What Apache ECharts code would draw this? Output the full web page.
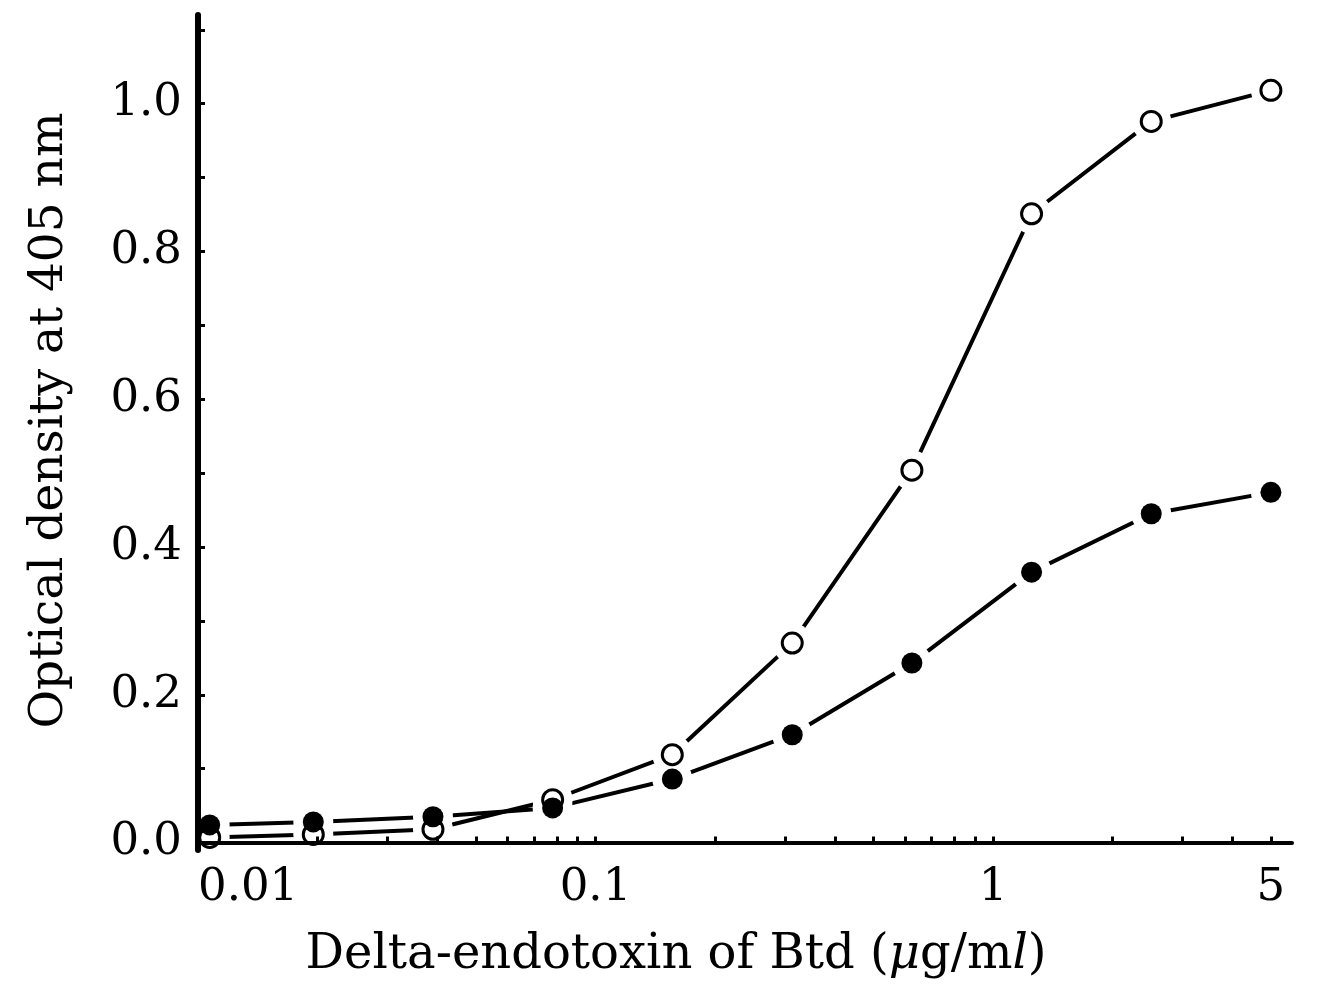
<!DOCTYPE html>
<html>
<head>
<meta charset="utf-8">
<script src="https://cdn.jsdelivr.net/npm/echarts@6/dist/echarts.min.js"></script>
<style>
html, body { margin: 0; background: #fff; }
#chart { width: 1323px; height: 987px; }
</style>
</head>
<body>
<div id="chart"></div>
<script>
// doubling dilutions of the toxin (ug/ml)
var doses = [0.0107, 0.0195, 0.039, 0.078, 0.156, 0.3125, 0.625, 1.25, 2.5, 5];
// open circles
var openOD = [0.007, 0.011, 0.018, 0.058, 0.119, 0.270, 0.504, 0.851, 0.976, 1.018];
// filled circles
var filledOD = [0.024, 0.028, 0.035, 0.047, 0.086, 0.146, 0.243, 0.366, 0.445, 0.474];

var xLabels = [0.01, 0.1, 1, 5];
var yLabels = [0, 0.2, 0.4, 0.6, 0.8, 1.0];
var yTicks = [0, 0.1, 0.2, 0.3, 0.4, 0.5, 0.6, 0.7, 0.8, 0.9, 1.0, 1.1];

// minor ticks 2..9 in each decade
var xTicks = [];
[0.01, 0.1, 1].forEach(function (d) {
    for (var k = 1; k <= 9; k++) {
        if (d * k <= 5.6) xTicks.push(+(d * k).toPrecision(3));
    }
});

function pairs(ys) {
    return doses.map(function (x, i) { return [x, ys[i]]; });
}

var font = 'DejaVu Serif';

var mychart = echarts.init(document.getElementById('chart'));

var option = {
    animation: false,
    backgroundColor: '#fff',
    grid: { left: 198, right: 31, top: 15, bottom: 137 },
    xAxis: {
        type: 'log',
        logBase: 10,
        min: 0.01,
        max: 5.65,
        z: 6,
        name: 'Delta-endotoxin of Btd ({i|\u03bc}g/m{i|l})',
        nameLocation: 'middle',
        nameGap: 82,
        nameTextStyle: {
            fontFamily: font, fontSize: 48, color: '#000',
            padding: [0, 138, 0, 0],
            rich: { i: { fontFamily: font, fontSize: 48, fontStyle: 'italic', color: '#000' } }
        },
        axisLine: { lineStyle: { color: '#000', width: 4 } },
        axisTick: { show: true, inside: true, length: 6, customValues: xTicks, lineStyle: { color: '#000', width: 3 } },
        axisLabel: {
            customValues: xLabels,
            alignMinLabel: 'left',
            margin: 16,
            fontFamily: font, fontSize: 45, color: '#000',
            formatter: function (v) { return String(+(+v).toPrecision(3)); }
        },
        splitLine: { show: false },
        minorTick: { show: false }
    },
    yAxis: {
        type: 'value',
        min: -0.01,
        max: 1.12,
        z: 6,
        name: 'Optical density at 405 nm',
        nameLocation: 'middle',
        nameRotate: 90,
        nameGap: 125,
        nameTextStyle: { fontFamily: font, fontSize: 47, color: '#000', padding: [0, 0, 0, 24] },
        axisLine: { show: true, lineStyle: { color: '#000', width: 6 } },
        axisTick: { show: true, inside: true, length: 7, customValues: yTicks, lineStyle: { color: '#000', width: 3 } },
        axisLabel: {
            customValues: yLabels,
            margin: 16,
            fontFamily: font, fontSize: 45, color: '#000',
            formatter: function (v) { return (+v).toFixed(1); }
        },
        splitLine: { show: false }
    },
    series: [
        {
            name: 'open line', type: 'line', data: pairs(openOD), symbol: 'none', z: 2,
            lineStyle: { color: '#000', width: 4 }
        },
        {
            name: 'filled line', type: 'line', data: pairs(filledOD), symbol: 'none', z: 2,
            lineStyle: { color: '#000', width: 4 }
        },
        {
            name: 'gap', type: 'scatter', data: pairs(openOD).concat(pairs(filledOD)),
            symbolSize: 40, z: 3, silent: true,
            itemStyle: { color: '#fff', opacity: 1 }
        },
        {
            name: 'open', type: 'scatter', data: pairs(openOD), symbolSize: 20, z: 4,
            itemStyle: { color: '#fff', borderColor: '#000', borderWidth: 3, opacity: 1 }
        },
        {
            name: 'filled', type: 'scatter', data: pairs(filledOD), symbolSize: 21, z: 4,
            itemStyle: { color: '#000', opacity: 1 }
        }
    ]
};
mychart.setOption(option);
</script>
</body>
</html>
